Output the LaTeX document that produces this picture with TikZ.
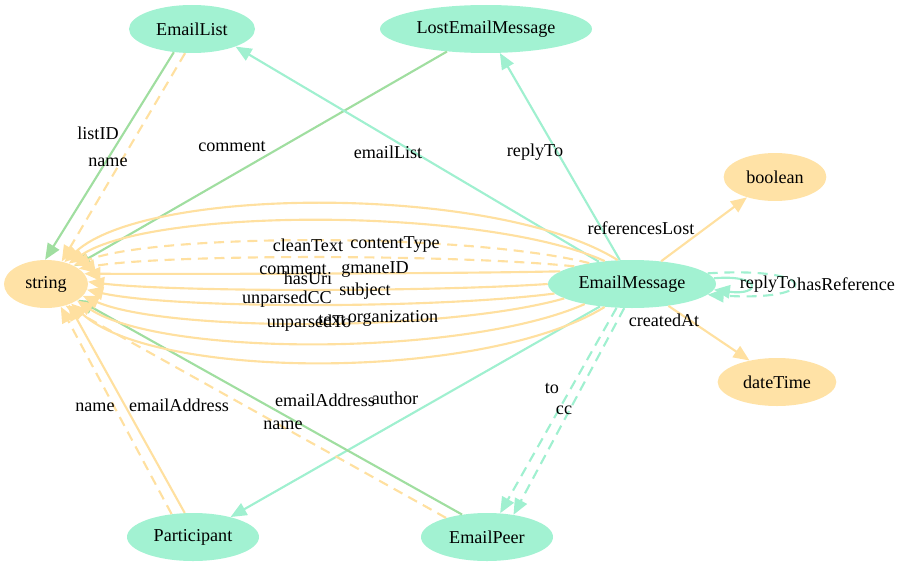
\documentclass[tikz,border=0pt]{standalone}
\usepackage{fontspec}
\setmainfont{Liberation Serif}
\usetikzlibrary{shapes.geometric,arrows.meta}
\definecolor{mint}{HTML}{A2F2D2}
\definecolor{sand}{HTML}{FFE2A6}
\definecolor{leaf}{HTML}{A0DEA0}
\definecolor{mintline}{HTML}{A0F0D0}
\definecolor{sandline}{HTML}{FFE0A0}
\begin{document}
\begin{tikzpicture}[x=0.75pt,y=-0.75pt,
  every node/.style={font=\fontsize{13.6}{16}\selectfont},
  cls/.style={ellipse, fill=mint, inner sep=0pt, minimum height=36pt},
  dtype/.style={ellipse, fill=sand, inner sep=0pt, minimum height=36pt},
  lbl/.style={inner sep=0pt},
  edgeline/.style={line width=1.6pt, -{Triangle[length=12pt,width=10pt]}},
  objp/.style={edgeline, draw=mintline},
  datp/.style={edgeline, draw=sandline},
  keyp/.style={edgeline, draw=leaf},
  dsh/.style={dash pattern=on 7.5pt off 5pt},
]
\useasboundingbox (0,0) rectangle (902,567);

% nodes
\node[cls, minimum width=94.5pt] (elist) at (192,29) {EmailList};
\node[cls, minimum width=159pt] (lost) at (486,29) {LostEmailMessage};
\node[dtype, minimum width=77pt] (bool) at (775,177) {boolean};
\node[dtype, minimum width=63pt] (str) at (46,284) {string};
\node[cls, minimum width=126pt] (msg) at (632,284) {EmailMessage};
\node[dtype, minimum width=89pt] (dt) at (777,382) {dateTime};
\node[cls, minimum width=99pt] (part) at (193,537) {Participant};
\node[cls, minimum width=99pt] (peer) at (487,537) {EmailPeer};

% straight edges
\draw[keyp] (elist.232) -- (str.92);
\draw[datp,dsh] (elist.254) -- (str.55);
\draw[keyp] (lost.210) -- (str.32);
\draw[objp] (msg.146) -- (elist.338);
\draw[objp] (msg.117) -- (lost.300);
\draw[datp] (msg.38) -- (bool.216);
\draw[datp] (msg.329) -- (dt.142);
\draw[objp] (msg.215) -- (part.28);
\draw[objp,dsh] (msg.237) -- (peer.61);
\draw[objp,dsh] (msg.252) -- (peer.40);
\draw[datp,dsh] (part.133) -- (str.303);
\draw[datp] (part.109) -- (str.318);
\draw[keyp] (peer.138) -- (str.334);
\draw[datp,dsh] (peer.155) -- (str.312);

% fan EmailMessage -> string
\draw[datp] (msg.121) .. controls (498,185) and (149,185) .. (str.50);
\draw[datp] (msg.140) .. controls (485,207) and (153,207) .. (str.42);
\draw[datp,dsh] (msg.154) .. controls (470,233) and (158,233) .. (str.34);
\draw[datp,dsh] (msg.163) .. controls (455,254) and (163,254) .. (str.25);
\draw[datp] (msg.170) .. controls (440,274) and (169,274) .. (str.15);
\draw[datp] (msg.180) .. controls (428,292) and (173,292) .. (str.3);
\draw[datp] (msg.187) .. controls (435,309) and (172,309) .. (str.-8);
\draw[datp] (msg.192) .. controls (445,332) and (167,332) .. (str.-18);
\draw[datp] (msg.203) .. controls (465,357) and (162,357) .. (str.-28);
\draw[datp] (msg.220) .. controls (485,381) and (156,381) .. (str.-38);

% self loops
\draw[objp] (msg.4) .. controls (762,274) and (762,296) .. (msg.-4);
\draw[objp,dsh] (msg.8) .. controls (822,266) and (822,302) .. (msg.-8);

% labels
\node[lbl] (l1) at (98,133) {listID};
\node[lbl] (l2) at (108,162) {name};
\node[lbl] (l3) at (232,146) {comment};
\node[lbl] (l4) at (388,152) {emailList};
\node[lbl] (l5) at (535,152) {replyTo};
\node[lbl] (l6) at (641,228) {referencesLost};
\node[lbl] (l7) at (308,245) {cleanText};
\node[lbl] (l8) at (395,245) {contentType};
\node[lbl] (l9) at (293,269) {comment};
\node[lbl] (l10) at (308,278) {hasUri};
\node[lbl] (l11) at (375,270) {gmaneID};
\node[lbl] (l12) at (365,291) {subject};
\node[lbl] (l13) at (287,299) {unparsedCC};
\node[lbl] (l14) at (309,323) {unparsedTo};
\node[lbl] (l15) at (332,320) {text};
\node[lbl] (l16) at (393,318) {organization};
\node[lbl] (l17) at (664,320) {createdAt};
\node[lbl] (l18) at (768,284) {replyTo};
\node[lbl] (l19) at (846,284) {hasReference};
\node[lbl] (l20) at (552,388) {to};
\node[lbl] (l21) at (564,410) {cc};
\node[lbl] (l22) at (95,407) {name};
\node[lbl] (l23) at (179,405) {emailAddress};
\node[lbl] (l24) at (325,400) {emailAddress};
\node[lbl] (l25) at (395,398) {author};
\node[lbl] (l26) at (283,425) {name};
\end{tikzpicture}
\end{document}
